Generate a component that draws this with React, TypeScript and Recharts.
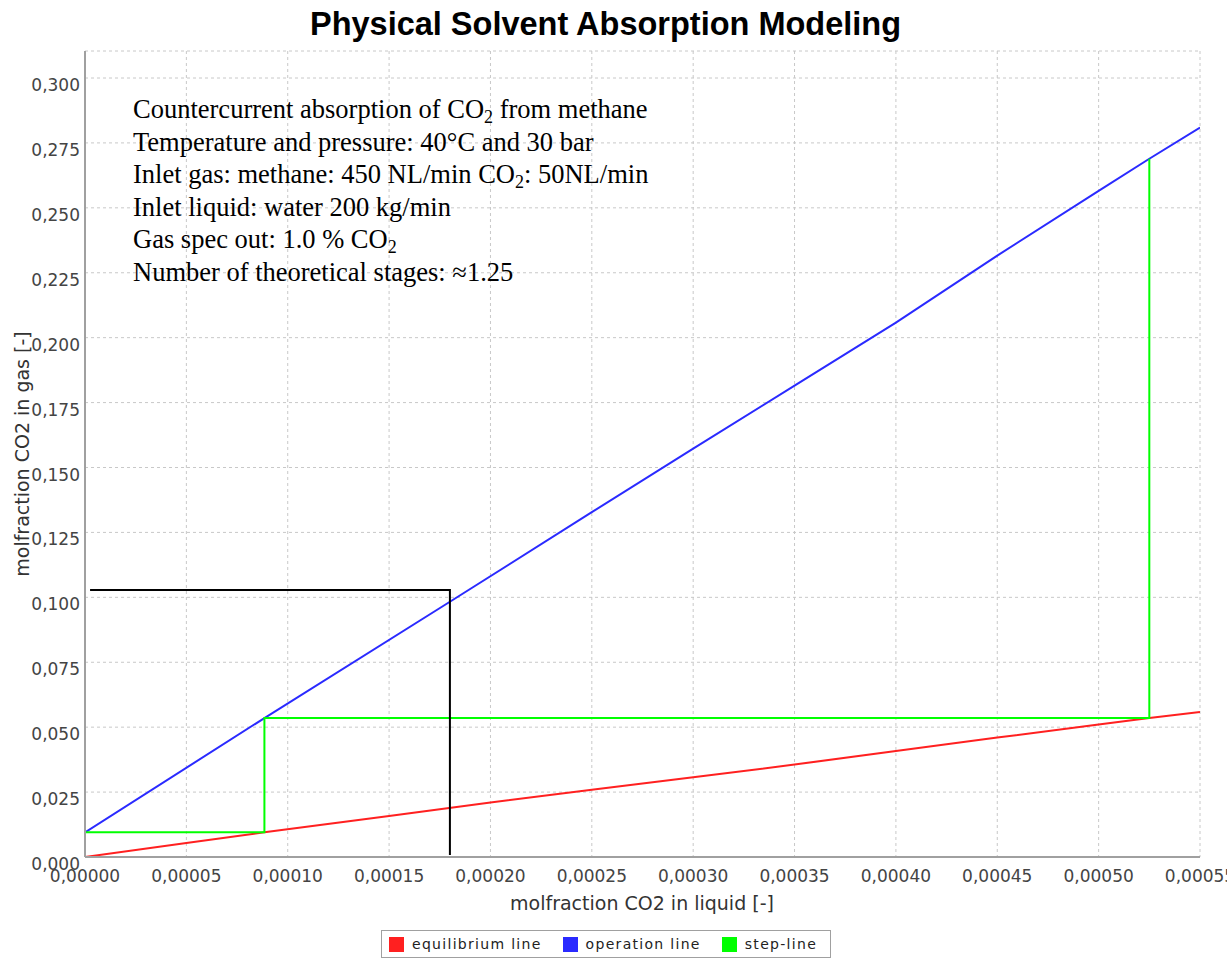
import { LineChart, Line, XAxis, YAxis, CartesianGrid, Legend } from "recharts";

// liquid molfraction (x) vs gas molfraction (y)
const equilibriumLine = [
  { x: 0, y: 0 },
  { x: 0.00005, y: 0.0054 },
  { x: 0.0000885, y: 0.0095 },
  { x: 0.00015, y: 0.0158 },
  { x: 0.0002, y: 0.021 },
  { x: 0.00025, y: 0.0259 },
  { x: 0.0003, y: 0.0307 },
  { x: 0.00035, y: 0.0356 },
  { x: 0.0004, y: 0.0408 },
  { x: 0.00045, y: 0.046 },
  { x: 0.0005, y: 0.051 },
  { x: 0.000525, y: 0.0535 },
  { x: 0.00055, y: 0.0558 },
];

const operationLine = [
  { x: 0, y: 0.0095 },
  { x: 0.0000885, y: 0.0535 },
  { x: 0.00018, y: 0.0983 },
  { x: 0.00025, y: 0.1328 },
  { x: 0.0003, y: 0.1573 },
  { x: 0.00035, y: 0.1815 },
  { x: 0.0004, y: 0.2058 },
  { x: 0.00045, y: 0.2316 },
  { x: 0.0005, y: 0.2565 },
  { x: 0.000525, y: 0.2689 },
  { x: 0.00055, y: 0.2809 },
];

const stepLine = [
  { x: 0, y: 0.0095 },
  { x: 0.0000885, y: 0.0095 },
  { x: 0.0000885, y: 0.0535 },
  { x: 0.000525, y: 0.0535 },
  { x: 0.000525, y: 0.2689 },
];

const feedMarker = [
  { x: 0.0000025, y: 0.1028 },
  { x: 0.00018, y: 0.1028 },
  { x: 0.00018, y: 0.0008 },
];

const xTicks = [0, 0.00005, 0.0001, 0.00015, 0.0002, 0.00025, 0.0003, 0.00035, 0.0004, 0.00045, 0.0005, 0.00055];
const yTicks = [0, 0.025, 0.05, 0.075, 0.1, 0.125, 0.15, 0.175, 0.2, 0.225, 0.25, 0.275, 0.3];

// "_2" marks a subscript 2
const noteLines = [
  "Countercurrent absorption of CO_2 from methane",
  "Temperature and pressure: 40°C and 30 bar",
  "Inlet gas: methane: 450 NL/min CO_2: 50NL/min",
  "Inlet liquid: water 200 kg/min",
  "Gas spec out: 1.0 % CO_2",
  "Number of theoretical stages: ≈1.25",
];

const W = 1227;
const H = 958;
const sans = "'DejaVu Sans', sans-serif";
const axisStroke = { stroke: "#a0a0a0", strokeWidth: 2 };

const fmtX = (v: number) => v.toFixed(5).replace(".", ",");
const fmtY = (v: number) => v.toFixed(3).replace(".", ",");

function YTick({ x, y, payload }: any) {
  return (
    <text x={x} y={y + 13} textAnchor="end" fontSize={17} fill="#444" fontFamily={sans}>
      {fmtY(payload.value)}
    </text>
  );
}

function LegendBox({ payload }: any) {
  const items = (payload ?? []).filter((p: any) => p.type !== "none");
  return (
    <div style={legendBox}>
      {items.map((p: any) => (
        <div key={p.value} style={{ display: "flex", alignItems: "center", marginRight: 21, flexShrink: 0, whiteSpace: "nowrap" }}>
          <span style={{ width: 15, height: 15, background: p.color, marginRight: 8, display: "inline-block" }} />
          <span>{p.value}</span>
        </div>
      ))}
    </div>
  );
}

function NoteLine({ text, y }: { text: string; y: number }) {
  const parts = text.split("_2");
  const spans: any[] = [];
  parts.forEach((p, i) => {
    spans.push(<tspan key={"t" + i} dy={i > 0 ? -5 : 0}>{p}</tspan>);
    if (i < parts.length - 1) spans.push(<tspan key={"s" + i} fontSize={18} dy={5}>2</tspan>);
  });
  return <text x={133} y={y}>{spans}</text>;
}

export default function App() {
  return (
    <div style={page}>
      <div style={title}>Physical Solvent Absorption Modeling</div>
      <LineChart width={W} height={H} margin={{ top: 51, right: 27, bottom: 61, left: 0 }}>
        <CartesianGrid stroke="#c8c8c8" strokeDasharray="3 3" />
        <XAxis
          type="number"
          dataKey="x"
          domain={[0, 0.00055]}
          ticks={xTicks}
          interval={0}
          tickFormatter={fmtX}
          tick={{ fontSize: 17, fill: "#444", fontFamily: sans }}
          tickSize={0}
          tickMargin={13}
          tickLine={false}
          axisLine={axisStroke}
          height={40}
          allowDataOverflow
        />
        <XAxis xAxisId="top" orientation="top" type="number" domain={[0, 1]} tick={false} tickLine={false} axisLine={axisStroke} height={0} />
        <YAxis
          type="number"
          domain={[0, 0.3104]}
          ticks={yTicks}
          interval={0}
          tick={<YTick />}
          tickSize={0}
          tickMargin={5}
          tickLine={false}
          axisLine={axisStroke}
          width={85}
          allowDataOverflow
        />
        <YAxis yAxisId="right" orientation="right" type="number" domain={[0, 1]} tick={false} tickLine={false} axisLine={axisStroke} width={0} />
        <Legend verticalAlign="middle" align="center" layout="horizontal" content={<LegendBox />}
          wrapperStyle={{ position: "absolute", left: 381, top: 930, width: 450, height: 28 }} />
        <Line data={equilibriumLine} dataKey="y" name="equilibrium line" stroke="#ff2020" strokeWidth={2} dot={false} isAnimationActive={false} />
        <Line data={operationLine} dataKey="y" name="operation line" stroke="#2a2aff" strokeWidth={2} dot={false} isAnimationActive={false} />
        <Line data={stepLine} dataKey="y" name="step-line" stroke="#00ff00" strokeWidth={2} dot={false} isAnimationActive={false} />
        <Line data={feedMarker} dataKey="y" name="feed" legendType="none" stroke="#000000" strokeWidth={2} dot={false} isAnimationActive={false} />
      </LineChart>
      <svg width={W} height={H} style={overlay}>
        <g fontFamily="'Liberation Serif', 'Times New Roman', serif" fontSize={26.5} fill="#000">
          {noteLines.map((t, i) => (
            <NoteLine key={i} text={t} y={118 + i * 32.6} />
          ))}
        </g>
        <text x={642} y={910} textAnchor="middle" fontSize={19} fill="#333" fontFamily={sans}>
          molfraction CO2 in liquid [-]
        </text>
        <text x={29} y={454} textAnchor="middle" fontSize={19} fill="#333" fontFamily={sans} transform="rotate(-90, 29, 454)">
          molfraction CO2 in gas [-]
        </text>
      </svg>
    </div>
  );
}

const page: React.CSSProperties = {
  position: "absolute",
  left: 0,
  top: 0,
  width: W,
  height: H,
  background: "#fff",
  overflow: "hidden",
};

const overlay: React.CSSProperties = {
  position: "absolute",
  left: 0,
  top: 0,
  pointerEvents: "none",
};

const title: React.CSSProperties = {
  position: "absolute",
  left: 0,
  top: 4,
  width: 1211,
  textAlign: "center",
  fontFamily: "'Liberation Sans', Arial, sans-serif",
  fontWeight: 700,
  fontSize: 32.5,
  lineHeight: "40px",
  color: "#000",
};

const legendBox: React.CSSProperties = {
  boxSizing: "border-box",
  width: 450,
  height: 28,
  border: "1px solid #a0a0a0",
  display: "flex",
  alignItems: "center",
  paddingLeft: 7,
  fontFamily: sans,
  fontSize: 14,
  letterSpacing: 1.3,
  color: "#222",
  background: "#fff",
  overflow: "hidden",
};
